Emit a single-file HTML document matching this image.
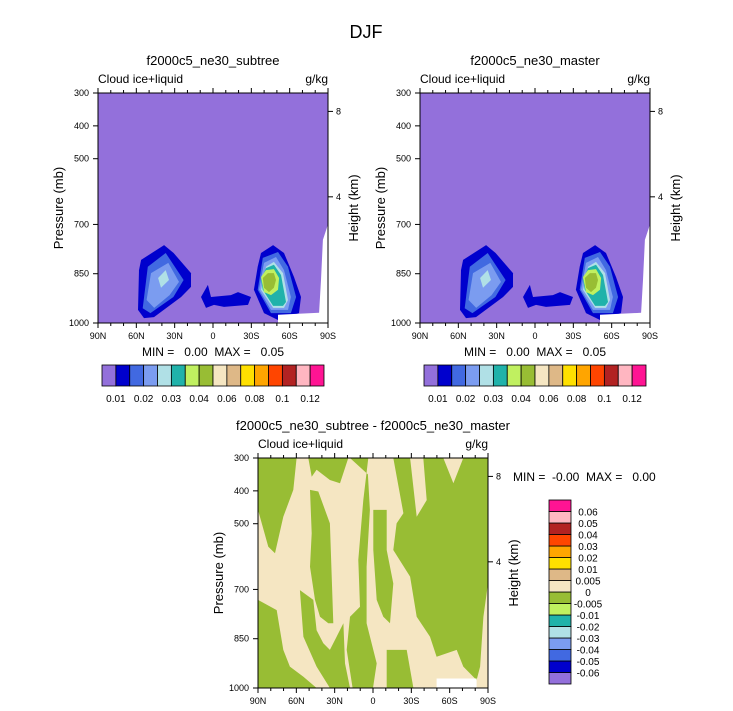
<!DOCTYPE html>
<html><head><meta charset="utf-8"><style>
body{margin:0;background:#fff;}
svg{display:block;font-family:"Liberation Sans",Arial,sans-serif;}
</style></head><body>
<svg id="chart" width="733" height="711" viewBox="0 0 733 711" xmlns="http://www.w3.org/2000/svg">
<text x="366" y="38" font-size="18" text-anchor="middle">DJF</text>
</svg>
<script>
// ---- data ----
const xTickLats = [90, 60, 30, 0, -30, -60, -90];
const xTickLabels = ["90N", "60N", "30N", "0", "30S", "60S", "90S"];
const yTickPres = [300, 400, 500, 700, 850, 1000];
const heightTicks = [8, 4];
const heightTickPres = [356, 616];
const topLevels = [0.01,0.015,0.02,0.025,0.03,0.035,0.04,0.05,0.06,0.07,0.08,0.09,0.1,0.11,0.12];
const topLevelLabels = ["0.01","","0.02","","0.03","","0.04","","0.06","","0.08","","0.1","","0.12"];
const topColors = ["#9370DB","#0000CD","#4169E1","#7B9CF0","#B0E0E6","#20B2AA","#C0F060","#98BD34","#F5E6C2","#DEB887","#FFE000","#FFA500","#FF4500","#B22222","#FFB6C1","#FF1493"];
const diffLevelLabels = ["-0.06","-0.05","-0.04","-0.03","-0.02","-0.01","-0.005","0","0.005","0.01","0.02","0.03","0.04","0.05","0.06"];
const diffColors = ["#9370DB","#0000CD","#4169E1","#7B9CF0","#B0E0E6","#20B2AA","#C0F060","#98BD34","#F5E6C2","#DEB887","#FFE000","#FFA500","#FF4500","#B22222","#FFB6C1","#FF1493"];
// contour regions for the mean fields: [colorIndex, [[lat,p],...]]
const blobLevels = [1,2,3,4, 1, 1,2,3,4,5,6,7];
const blobShapes = [
 [[56.3,808],[38.3,763],[30.8,787],[17.2,848],[17.2,890],[25,921],[46.2,982],[54,985],[58.7,960],[57.9,839]],
 [[51,829],[37,787],[23,869],[31,921],[49,970],[55,955]],
 [[48.5,848],[35,817],[26.6,875],[34,915],[46,954],[52,930]],
 [[43,863],[37,839],[34.4,869],[40.7,893]],
 [[9.4,921],[4,884],[1.6,921],[-14,915],[-19.6,906],[-29.7,921],[-27.4,945],[-8.6,951],[-0.8,945],[5.5,954]],
 [[-37.6,787],[-47,763],[-55.6,787],[-63.4,860],[-68.9,921],[-67.3,970],[-50.9,991],[-39.9,970],[-32,899],[-35,829]],
 [[-39,802],[-50.9,784],[-58.7,829],[-65,921],[-61,970],[-45.4,970],[-35,899]],
 [[-39.9,817],[-49.3,799],[-55.6,839],[-61,921],[-58.7,960],[-45.4,960],[-36,899]],
 [[-41.5,829],[-47.7,814],[-54.8,848],[-58.7,930],[-55.6,954],[-47,954],[-37.6,899]],
 [[-41.5,833],[-47.7,823],[-53.2,854],[-57.1,936],[-54.8,948],[-47,948],[-39,899],[-37.6,869]],
 [[-37.6,860],[-41.5,839],[-47.7,836],[-51.7,863],[-50.9,899],[-45.4,915],[-39.9,906]],
 [[-39,863],[-43,848],[-47.7,848],[-49.3,869],[-47.7,893],[-43.8,906],[-39.9,893]]
];
const missingShape = [[-90,700],[-86,747],[-84.5,869],[-83,969],[-50.9,975],[-50.9,1000],[-90,1000]];
// difference field: regions below 0 (green) on beige background
const diffNegShapes = [
 [[90,300],[59.8,300],[62.4,397],[70.2,479],[76.7,590],[81.9,570],[90,458]],
 [[50.6,300],[19.3,300],[25.8,377],[33.7,367],[44.1,336],[48,357]],
 [[18,300],[3.7,300],[7.6,428],[11.5,610],[10.2,753],[18,783],[20.6,884],[16,1000],[0,1000],[-2.9,925],[5,803],[5,631],[2.4,458],[4,350]],
 [[49.3,397],[42.8,402],[33.7,499],[31.1,803],[35,803],[41.5,783],[45.4,732],[49.3,631],[48,529]],
 [[-0.2,458],[-10.7,458],[-10.7,580],[-15.9,682],[-13.3,803],[-8.1,783],[-2.9,732],[-0.2,580]],
 [[-15.9,300],[-29,300],[-34.2,479],[-42,428],[-39.4,300],[-55,300],[-62.9,377],[-70.7,300],[-90,300],[-90,682],[-86.4,783],[-83.8,935],[-81.1,976],[-70.7,935],[-65.5,884],[-49.8,905],[-44.6,844],[-34.2,783],[-29,661],[-15.9,580],[-18.5,499],[-23.8,468]],
 [[90,732],[75.4,763],[70.2,884],[65,935],[54.5,966],[44.1,1000],[90,1000]],
 [[57.2,702],[46.7,732],[44.1,824],[38.9,864],[33.7,884],[28.5,844],[23.2,803],[21.9,925],[18,1000],[33.7,1000],[44.1,935],[54.5,844]],
 [[-10.7,884],[-26.4,884],[-31.6,1000],[-10.7,1000]]
];
const diffMissing = [[-49.8,971],[-81.1,971],[-81.1,1000],[-49.8,1000]];

// ---- drawing ----
const svg = document.getElementById('chart');
const NS = 'http://www.w3.org/2000/svg';
function mk(tag, attrs, parent){const e=document.createElementNS(NS,tag);for(const k in attrs)e.setAttribute(k,attrs[k]);(parent||svg).appendChild(e);return e;}
const W=230,H=230;
function panel(x0,y0,title,kind,nm){
  const g=mk('g',{});
  
  
  const X=lat=>x0+(90-lat)/180*W;
  const Y=p=>y0+(p-300)/700*H;
  const pts=s=>s.map(q=>X(q[0]).toFixed(1)+','+Y(q[1]).toFixed(1)).join(' ');
  if(kind==='mean'){
    const bg=mk('rect',{x:x0,y:y0,width:W,height:H,fill:topColors[0]},g);
    
    
    blobShapes.forEach((s,i)=>{
      const p=mk('polygon',{points:pts(s),fill:topColors[blobLevels[i]]},g);
      
      
    });
    const m=mk('polygon',{points:pts(missingShape),fill:'#fff'},g);
    
    
  } else {
    const bg=mk('rect',{x:x0,y:y0,width:W,height:H,fill:diffColors[8]},g);
    
    
    diffNegShapes.forEach(s=>{
      const p=mk('polygon',{points:pts(s),fill:diffColors[7]},g);
      
      
    });
    const m=mk('polygon',{points:pts(diffMissing),fill:'#fff'},g);
    
    
  }
  const fr=mk('rect',{x:x0,y:y0,width:W,height:H,fill:'none',stroke:'#000','stroke-width':1},g);
  
  
  // x ticks
  for(let lat=90;lat>=-90;lat-=10){
    const major=lat%30===0, len=major?5:3, x=X(lat);
    mk('line',{x1:x,y1:y0+H,x2:x,y2:y0+H+len,stroke:'#000'},g);
    mk('line',{x1:x,y1:y0,x2:x,y2:y0-len,stroke:'#000'},g);
  }
  xTickLats.forEach((lat,i)=>{
    const t=mk('text',{x:X(lat),y:y0+H+16,'font-size':9,'text-anchor':'middle'},g);t.textContent=xTickLabels[i];
    
    
  });
  yTickPres.forEach(p=>{
    mk('line',{x1:x0,y1:Y(p),x2:x0-5,y2:Y(p),stroke:'#000'},g);
    const t=mk('text',{x:x0-9,y:Y(p)+3,'font-size':9,'text-anchor':'end'},g);t.textContent=p;
    
    
  });
  heightTicks.forEach((h,i)=>{
    const y=Y(heightTickPres[i]);
    mk('line',{x1:x0+W,y1:y,x2:x0+W+5,y2:y,stroke:'#000'},g);
    const t=mk('text',{x:x0+W+8,y:y+3,'font-size':9},g);t.textContent=h;
    
    
  });
  let t=mk('text',{x:x0-35,y:y0+H/2,'font-size':13,'text-anchor':'middle',transform:`rotate(-90 ${x0-35} ${y0+H/2})`},g);t.textContent='Pressure (mb)';
  
  
  t=mk('text',{x:x0+W+30,y:y0+H/2,'font-size':13,'text-anchor':'middle',transform:`rotate(-90 ${x0+W+30} ${y0+H/2})`},g);t.textContent='Height (km)';
  
  
  t=mk('text',{x:x0+W/2,y:y0-28,'font-size':13,'text-anchor':'middle'},g);t.textContent=title;
  
  
  t=mk('text',{x:x0,y:y0-10,'font-size':12},g);t.textContent='Cloud ice+liquid';
  
  
  t=mk('text',{x:x0+W,y:y0-10,'font-size':12,'text-anchor':'end'},g);t.textContent='g/kg';
  
  
}
function hbar(x0,y0,nm){
  const g=mk('g',{});
  
  
  const bw=222/topColors.length;
  topColors.forEach((c,i)=>{
    const r=mk('rect',{x:x0+i*bw,y:y0,width:bw,height:21,fill:c,stroke:'#000','stroke-width':0.8},g);
    
    
  });
  topLevelLabels.forEach((l,i)=>{
    if(!l)return;
    const t=mk('text',{x:x0+(i+1)*bw,y:y0+37,'font-size':10,'text-anchor':'middle'},g);t.textContent=l;
    
    
  });
}
function minmax(x,y,txt,anchor){
  const t=mk('text',{x:x,y:y,'font-size':12,'text-anchor':anchor});t.textContent=txt;
  
  
  t.setAttribute('xml:space','preserve');t.style.whiteSpace='pre';
}
panel(98,93,'f2000c5_ne30_subtree','mean','subtree-panel');
panel(420,93,'f2000c5_ne30_master','mean','master-panel');
panel(258,458,'f2000c5_ne30_subtree - f2000c5_ne30_master','diff','difference-panel');
hbar(102,365,'subtree-colorbar');
hbar(424,365,'master-colorbar');
minmax(213,356,'MIN =   0.00  MAX =   0.05','middle');
minmax(535,356,'MIN =   0.00  MAX =   0.05','middle');
minmax(513,481,'MIN =  -0.00  MAX =   0.00','start');
// vertical colorbar
(function(){
  const g=mk('g',{});
  
  
  const x0=549,yb=684,bh=184/diffColors.length;
  diffColors.forEach((c,i)=>{
    const r=mk('rect',{x:x0,y:yb-(i+1)*bh,width:22,height:bh,fill:c,stroke:'#000','stroke-width':0.8},g);
    
    
  });
  diffLevelLabels.forEach((l,i)=>{
    const t=mk('text',{x:588,y:yb-(i+1)*bh+4,'font-size':10,'text-anchor':'middle'},g);t.textContent=l;
    
    
  });
})();
</script>
</body></html>
